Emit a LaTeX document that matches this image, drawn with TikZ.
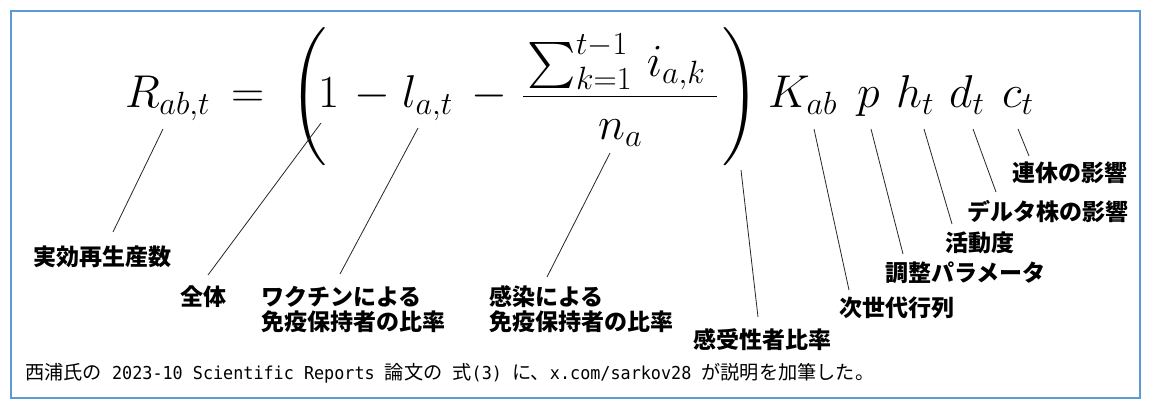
\RequirePackage{fix-cm}
\documentclass[tikz,border=0pt]{standalone}
\usepackage{amsmath}
\DeclareFontShape{OMX}{cmex}{m}{n}{<-> cmex10}{}
\usepackage{fontspec}
\usepackage{graphicx}
\newfontfamily\jp{Noto Sans CJK JP}
\newfontfamily\latm{DejaVu Sans Mono}
\definecolor{frameblue}{RGB}{91,155,213}
\newcommand{\hs}{\hspace*{10.1pt}}
\newcommand{\lat}[1]{\scalebox{0.9426}[1]{\latm\fontsize{17.8}{20}\selectfont #1}}
\tikzset{
  leader/.style={draw=black!85, line width=0.8pt},
  lbl/.style={anchor=west, inner sep=0pt, font=\jp\bfseries\fontsize{23}{25}\selectfont, align=left},
  eqp/.style={anchor=base west, inner sep=0pt, font=\fontsize{46}{55}\selectfont},
}
\begin{document}
\begin{tikzpicture}[x=1pt,y=-1pt]
\useasboundingbox (0,0) rectangle (1150,409);
\fill[white] (0,0) rectangle (1150,409);
\draw[frameblue, line width=2.5pt] (11,11) rectangle (1140,398);

% the formula, piece by piece (baseline y = 108)
\node[eqp] (eR)  at (125,108) {$R_{ab,t}$};
\node[eqp] (eEq) at (231,108) {$=$};
\node[eqp, anchor=base] (eLP) at (309,108) {$\Biggl($};
\node[eqp] (eOne) at (318,108) {$1$};
\node[eqp] (eM1) at (354,108) {$-$};
\node[eqp] (eL)  at (402,108) {$l_{a,t}$};
\node[eqp] (eM2) at (471,108) {$-$};
\node[eqp] (eFr) at (521.8,108) {$\displaystyle\frac{\hbox to 194pt{$\textstyle\kern4.4pt\sum_{k=1}^{t-1}\kern7pt i_{a,k}$\hfil}}{n_a}$};
\node[eqp, anchor=base] (eRP) at (741,108) {$\Biggr)$};
\node[eqp] (eK)  at (768,108) {$K_{ab}$};
\node[eqp] (eP)  at (857,108) {$p$};
\node[eqp] (eH)  at (896,108) {$h_t$};
\node[eqp] (eD)  at (949,108) {$d_t$};
\node[eqp] (eC)  at (1002,108) {$c_t$};

% upper ends of the leaders (on the formula)
\coordinate (c1) at (163,129);
\coordinate (c2) at (321,123);
\coordinate (c3) at (418,128);
\coordinate (c4) at (610,153);
\coordinate (c5) at (741,170);
\coordinate (c6) at (814,129);
\coordinate (c7) at (871,129);
\coordinate (c8) at (924,129);
\coordinate (c9) at (973,129);
\coordinate (c10) at (1018,129);
% lower ends of the leaders
\coordinate (b1) at (113,232);
\coordinate (b2) at (208,275);
\coordinate (b3) at (340,274);
\coordinate (b4) at (547,277);
\coordinate (b5) at (758,317);
\coordinate (b6) at (849,290);
\coordinate (b7) at (903,254);
\coordinate (b8) at (952,224);
\coordinate (b9) at (996,192);
\coordinate (b10) at (1029,156);

\node[lbl] (l1) at (33,257) {実効再生産数};
\node[lbl] (l2) at (180,297) {全体};
\node[lbl] (l3) at (261,309.5) {ワクチンによる\\免疫保持者の比率};
\node[lbl] (l4) at (489,309.5) {感染による\\免疫保持者の比率};
\node[lbl] (l5) at (693,340) {感受性者比率};
\node[lbl] (l6) at (839,308) {次世代行列};
\node[lbl] (l7) at (885,273) {調整パラメータ};
\node[lbl] (l8) at (945,243) {活動度};
\node[lbl] (l9) at (967,212) {デルタ株の影響};
\node[lbl] (l10) at (1012,173) {連休の影響};

\foreach \i in {1,...,10} { \draw[leader] (c\i) -- (b\i); }

\node[anchor=west, inner sep=0pt, font=\jp\fontsize{19.2}{22}\selectfont] (foot) at (25,373)
  {西浦氏の\hs\lat{2023-10 Scientific Reports}\hs 論文の\hs 式\lat{(3)}\hs に、\lat{x.com/sarkov28}\hs が説明を加筆した。};
\end{tikzpicture}
\end{document}
